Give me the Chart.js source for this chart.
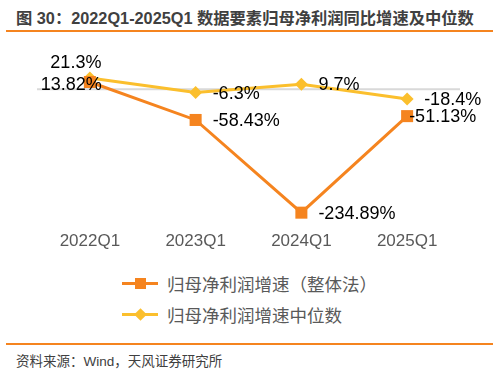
<!DOCTYPE html>
<html><head><meta charset="utf-8">
<script src="https://cdn.jsdelivr.net/npm/chart.js@4/dist/chart.umd.min.js"></script>
<style>
html,body{margin:0;padding:0;background:#fff;}
body{width:499px;height:372px;position:relative;overflow:hidden;font-family:"Liberation Sans","Noto Sans CJK SC",sans-serif;}
#title{position:absolute;left:16px;top:5px;font-size:16.3px;font-weight:bold;color:#404040;white-space:nowrap;letter-spacing:0px;}
.rule{position:absolute;left:6px;width:487px;height:2px;background:#F5841F;}
#wrap{position:absolute;left:0;top:40px;width:499px;height:223px;}
#legend{position:absolute;left:122px;top:268px;font-size:17.5px;color:#595959;}
.li{height:31px;display:flex;align-items:center;white-space:nowrap;}
.sw{position:relative;width:36px;height:14px;margin-right:9px;}
.sw .ln{position:absolute;left:0;top:5.5px;width:36px;height:3px;}
.sw .sq{position:absolute;left:12.5px;top:1.5px;width:11px;height:11px;}
.sw .dm{position:absolute;left:13.5px;top:2.5px;width:9px;height:9px;transform:rotate(45deg);}
#foot{position:absolute;left:16px;top:350px;font-size:13.5px;color:#404040;white-space:nowrap;}
</style></head>
<body>
<div id="title">图 30：2022Q1-2025Q1 数据要素归母净利润同比增速及中位数</div>
<div class="rule" style="top:30px"></div>
<div id="wrap"><canvas id="c"></canvas></div>
<div id="legend">
  <div class="li"><div class="sw"><div class="ln" style="background:#F5841F"></div><div class="sq" style="background:#F5841F"></div></div><span id="l0"></span></div>
  <div class="li"><div class="sw"><div class="ln" style="background:#FBBF2D"></div><div class="dm" style="background:#FBBF2D"></div></div><span id="l1"></span></div>
</div>
<div class="rule" style="top:343px;height:1.5px"></div>
<div id="foot">资料来源：Wind，天风证券研究所</div>
<script>
const categories = ["2022Q1", "2023Q1", "2024Q1", "2025Q1"];
const seriesNames = ["归母净利润增速（整体法）", "归母净利润增速中位数"];
const totalGrowth = [13.82, -58.43, -234.89, -51.13];
const medianGrowth = [21.3, -6.3, 9.7, -18.4];
const totalLabels = ["13.82%", "-58.43%", "-234.89%", "-51.13%"];
const medianLabels = ["21.3%", "-6.3%", "9.7%", "-18.4%"];

document.getElementById('l0').textContent = seriesNames[0];
document.getElementById('l1').textContent = seriesNames[1];

const ORANGE = '#F5841F', YELLOW = '#FBBF2D';
const labelFont = '18px "Liberation Sans", Arial, sans-serif';

// label anchor styles per dataset
const labelAnchors = [
  ['overlapLeft', 'right', 'right', 'near'],
  ['above', 'right', 'right', 'right']
];

const labelPlugin = {
  id: 'valLabels',
  beforeDatasetsDraw(chart) {
    const {ctx, chartArea, scales} = chart;
    const y0 = scales.y.getPixelForValue(0);
    ctx.save();
    ctx.strokeStyle = '#D9D9D9';
    ctx.lineWidth = 2;
    ctx.beginPath();
    ctx.moveTo(chartArea.left, y0);
    ctx.lineTo(chartArea.right, y0);
    ctx.stroke();
    ctx.restore();
  },
  afterDatasetsDraw(chart) {
    const {ctx} = chart;
    const texts = [totalLabels, medianLabels];
    ctx.save();
    ctx.font = labelFont;
    ctx.fillStyle = '#000';
    ctx.textBaseline = 'middle';
    chart.data.datasets.forEach((ds, di) => {
      const meta = chart.getDatasetMeta(di);
      meta.data.forEach((pt, i) => {
        const a = labelAnchors[di][i];
        let x = pt.x, y = pt.y;
        if (a === 'right') { ctx.textAlign = 'left'; x += 17; y += 1; }
        else if (a === 'near') { ctx.textAlign = 'left'; x += 2; y += 1; }
        else if (a === 'overlapLeft') { ctx.textAlign = 'right'; x += 12; y += 3.5; }
        else if (a === 'above') { ctx.textAlign = 'center'; x -= 14; y -= 15; }
        ctx.fillText(texts[di][i], x, y);
      });
    });
    ctx.restore();
  }
};

new Chart(document.getElementById('c'), {
  type: 'line',
  data: {
    labels: categories,
    datasets: [
      {
        label: seriesNames[0], data: totalGrowth,
        borderColor: ORANGE, backgroundColor: ORANGE, borderWidth: 3,
        pointStyle: 'rect', pointRadius: 8.5, pointHoverRadius: 8.5,
        pointBorderWidth: 0, clip: false, tension: 0
      },
      {
        label: seriesNames[1], data: medianGrowth,
        borderColor: YELLOW, backgroundColor: YELLOW, borderWidth: 3,
        pointStyle: 'rectRot', pointRadius: 6.5, pointHoverRadius: 6.5,
        pointBorderWidth: 0, clip: false, tension: 0
      }
    ]
  },
  options: {
    responsive: true, maintainAspectRatio: false, animation: false,
    layout: {padding: {left: 37, right: 39, top: 23, bottom: 0}},
    plugins: {legend: {display: false}, tooltip: {enabled: false}},
    scales: {
      x: {
        offset: true,
        grid: {display: false, drawTicks: false, offset: true}, border: {display: false},
        ticks: {color: '#595959', padding: 11, font: {size: 17, family: '"Liberation Sans", Arial, sans-serif'}}
      },
      y: {display: false, min: -250, max: 50}
    }
  },
  plugins: [labelPlugin]
});
</script>
</body></html>
